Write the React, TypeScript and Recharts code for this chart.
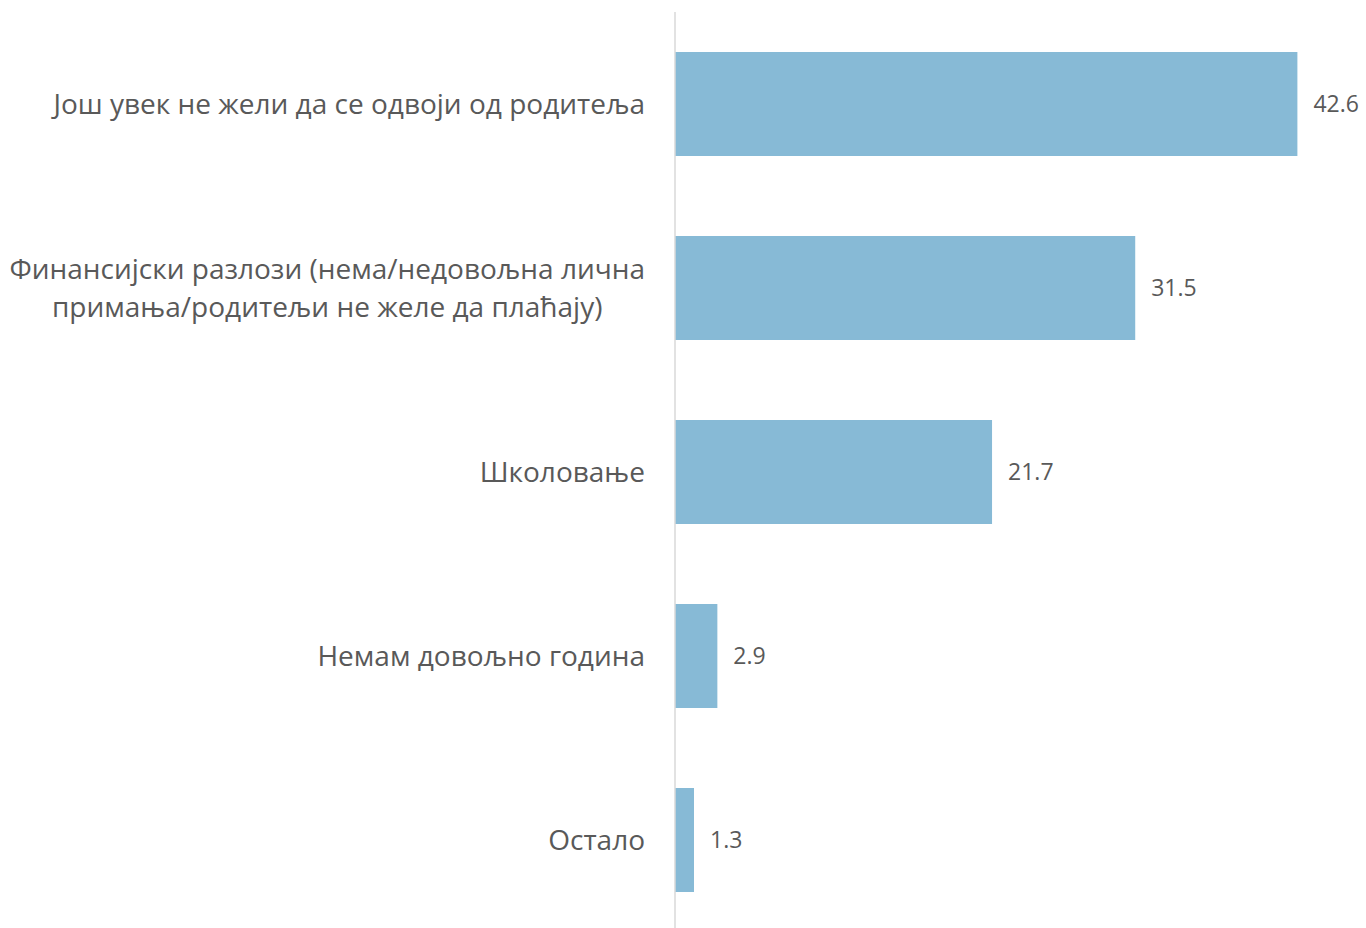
import React from 'react';
import { BarChart, Bar, XAxis, YAxis, LabelList } from 'recharts';

const categories = [
  'Још увек не жели да се одвоји од родитеља',
  'Финансијски разлози (нема/недовољна лична\nпримања/родитељи не желе да плаћају)',
  'Школовање',
  'Немам довољно година',
  'Остало',
];
const values = [42.6, 31.5, 21.7, 2.9, 1.3];

const data = categories.map((name, i) => ({ name, value: values[i] }));

const TEXT = '#595959';
const BAR = '#87BAD6';
const FONT = '"Open Sans", sans-serif';
const CAT_SIZE = 28;

let ctx: CanvasRenderingContext2D | null = null;
const measure = (s: string) => {
  if (!ctx) ctx = document.createElement('canvas').getContext('2d');
  if (!ctx) return s.length * CAT_SIZE * 0.5;
  ctx.font = `${CAT_SIZE}px "Open Sans"`;
  return ctx.measureText(s).width;
};

// category label: lines centred on each other, block right-aligned to the axis
const CategoryTick = (props: any) => {
  const { x, y, payload } = props;
  const lines: string[] = String(payload.value).split('\n');
  const widths = lines.map(measure);
  const maxW = Math.max(...widths);
  const right = x - 22;
  const cx = right - maxW / 2;
  const lh = 38;
  const top = y - ((lines.length - 1) * lh) / 2;
  return (
    <g>
      {lines.map((l, i) => (
        <text
          key={i}
          x={cx}
          y={top + i * lh}
          dy="0.35em"
          textAnchor="middle"
          fill={TEXT}
          fontSize={CAT_SIZE}
          fontFamily={FONT}
        >
          {l}
        </text>
      ))}
    </g>
  );
};

export default function App() {
  return (
    <div style={{ position: 'absolute', top: 0, left: 0, width: 1366, height: 928, overflow: 'hidden', background: '#fff' }}>
      <BarChart
        width={1366}
        height={940}
        data={data}
        layout="vertical"
        margin={{ top: 12, right: 35, bottom: 8, left: 0 }}
        barCategoryGap={80}
      >
        <XAxis type="number" domain={[0, 44.9]} hide />
        <YAxis
          type="category"
          dataKey="name"
          width={675}
          axisLine={{ stroke: '#D9D9D9', strokeWidth: 1.5 }}
          tickLine={false}
          tick={<CategoryTick />}
          interval={0}
        />
        <Bar dataKey="value" fill={BAR} barSize={104} isAnimationActive={false}>
          <LabelList
            dataKey="value"
            position="right"
            offset={16}
            fill={TEXT}
            fontSize={23}
            fontFamily={FONT}
            formatter={(v: any) => Number(v).toFixed(1)}
          />
        </Bar>
      </BarChart>
    </div>
  );
}
